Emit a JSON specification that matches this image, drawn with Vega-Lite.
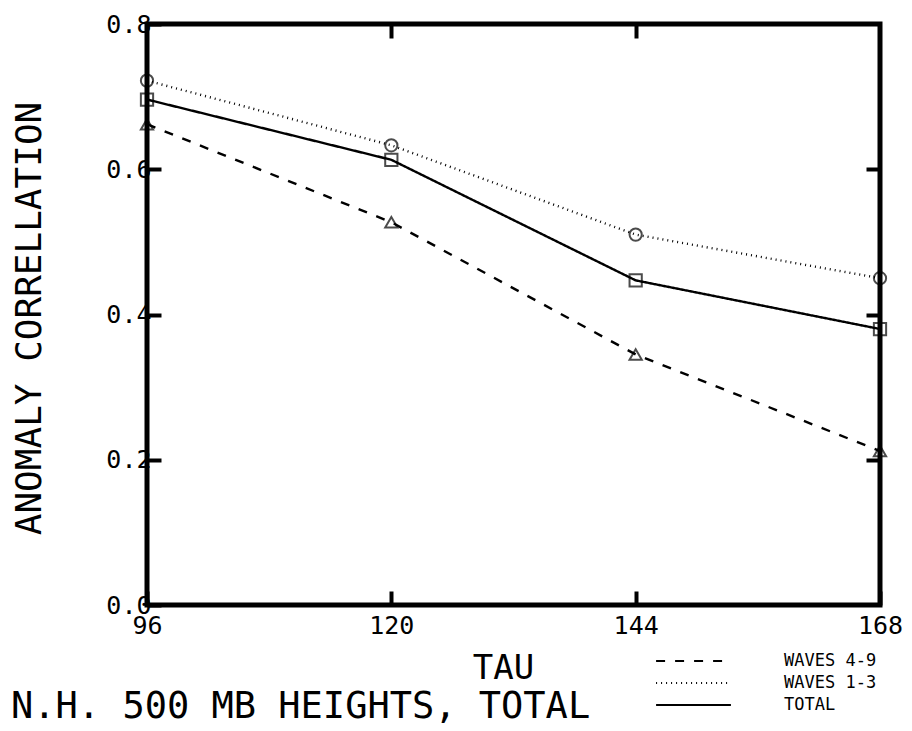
{
  "$schema": "https://vega.github.io/schema/vega-lite/v6.json",
  "autosize": "none",
  "width": 733,
  "height": 581,
  "padding": {"left": 147, "top": 24, "right": 32, "bottom": 126},
  "background": "white",
  "config": {
    "font": "DejaVu Sans Mono",
    "view": {"stroke": "black", "strokeWidth": 5},
    "axis": {"grid": false, "domain": false, "labelFont": "DejaVu Sans Mono", "titleFont": "DejaVu Sans Mono", "labelColor": "black", "titleColor": "black", "tickColor": "black", "titleFontWeight": "normal"}
  },
  "title": {
    "text": "N.H. 500 MB HEIGHTS, TOTAL",
    "orient": "top",
    "anchor": "start",
    "frame": "group",
    "dx": -136,
    "offset": 0,
    "dy": 743,
    "baseline": "alphabetic",
    "font": "DejaVu Sans Mono",
    "fontSize": 37,
    "fontWeight": "normal",
    "color": "black"
  },
  "data": {
    "values": [
      {"tau": 96, "series": "WAVES 4-9", "value": 0.662},
      {"tau": 120, "series": "WAVES 4-9", "value": 0.527},
      {"tau": 144, "series": "WAVES 4-9", "value": 0.345},
      {"tau": 168, "series": "WAVES 4-9", "value": 0.212},
      {"tau": 96, "series": "WAVES 1-3", "value": 0.722},
      {"tau": 120, "series": "WAVES 1-3", "value": 0.633},
      {"tau": 144, "series": "WAVES 1-3", "value": 0.51},
      {"tau": 168, "series": "WAVES 1-3", "value": 0.45},
      {"tau": 96, "series": "TOTAL", "value": 0.696},
      {"tau": 120, "series": "TOTAL", "value": 0.613},
      {"tau": 144, "series": "TOTAL", "value": 0.447},
      {"tau": 168, "series": "TOTAL", "value": 0.38}
    ]
  },
  "layer": [
    {
      "encoding": {
        "x": {
          "field": "tau", "type": "quantitative",
          "scale": {"domain": [96, 168], "nice": false, "zero": false},
          "axis": {"values": [96, 120, 144, 168], "title": "TAU", "titleFontSize": 34, "labelFontSize": 25, "tickSize": -14, "tickWidth": 4, "labelPadding": 22, "titleX": 356, "titleY": 73, "titleBaseline": "alphabetic", "labelFlush": false}
        },
        "y": {
          "field": "value", "type": "quantitative",
          "scale": {"domain": [0, 0.8], "nice": false},
          "axis": {"values": [0, 0.2, 0.4, 0.6, 0.8], "format": ".1f", "title": "ANOMALY CORRELLATION", "titleFontSize": 36, "labelFontSize": 25, "tickSize": -14, "tickWidth": 4, "labelPadding": 10, "titleX": -107, "titleY": 294, "titleBaseline": "alphabetic"}
        }
      },
      "layer": [
        {
          "mark": {"type": "line", "color": "black", "strokeWidth": 2.4},
          "encoding": {
            "strokeDash": {
              "field": "series", "type": "nominal",
              "scale": {"domain": ["WAVES 4-9", "WAVES 1-3", "TOTAL"], "range": [[9, 10], [1, 4], [1, 0]]},
              "legend": {"title": null, "orient": "none", "legendX": 508, "legendY": 628, "symbolType": "stroke", "symbolSize": 5600, "clipHeight": 18, "symbolStrokeColor": "black", "symbolStrokeWidth": 2, "labelFontSize": 17, "labelFont": "DejaVu Sans Mono", "labelColor": "black", "labelOffset": 52, "rowPadding": 4}
            }
          }
        },
        {
          "transform": [{"filter": "datum.series === 'WAVES 4-9'"}],
          "mark": {"type": "point", "shape": "triangle-up", "color": "black", "filled": false, "size": 150, "strokeWidth": 2}
        },
        {
          "transform": [{"filter": "datum.series === 'WAVES 1-3'"}],
          "mark": {"type": "point", "shape": "circle", "color": "black", "filled": false, "size": 150, "strokeWidth": 2}
        },
        {
          "transform": [{"filter": "datum.series === 'TOTAL'"}],
          "mark": {"type": "point", "shape": "square", "color": "black", "filled": false, "size": 150, "strokeWidth": 2}
        }
      ]
    },
    {
      "mark": {"type": "point", "opacity": 0},
      "encoding": {
        "x": {"field": "tau", "type": "quantitative", "scale": {"domain": [96, 168], "nice": false, "zero": false}, "axis": {"orient": "top", "labels": false, "title": null, "values": [120, 144], "tickSize": -14, "tickWidth": 4, "domain": false}},
        "y": {"field": "value", "type": "quantitative", "scale": {"domain": [0, 0.8], "nice": false}, "axis": {"orient": "right", "labels": false, "title": null, "values": [0.2, 0.4, 0.6], "tickSize": -14, "tickWidth": 4, "domain": false}}
      }
    }
  ],
  "resolve": {"axis": {"x": "independent", "y": "independent"}}
}
